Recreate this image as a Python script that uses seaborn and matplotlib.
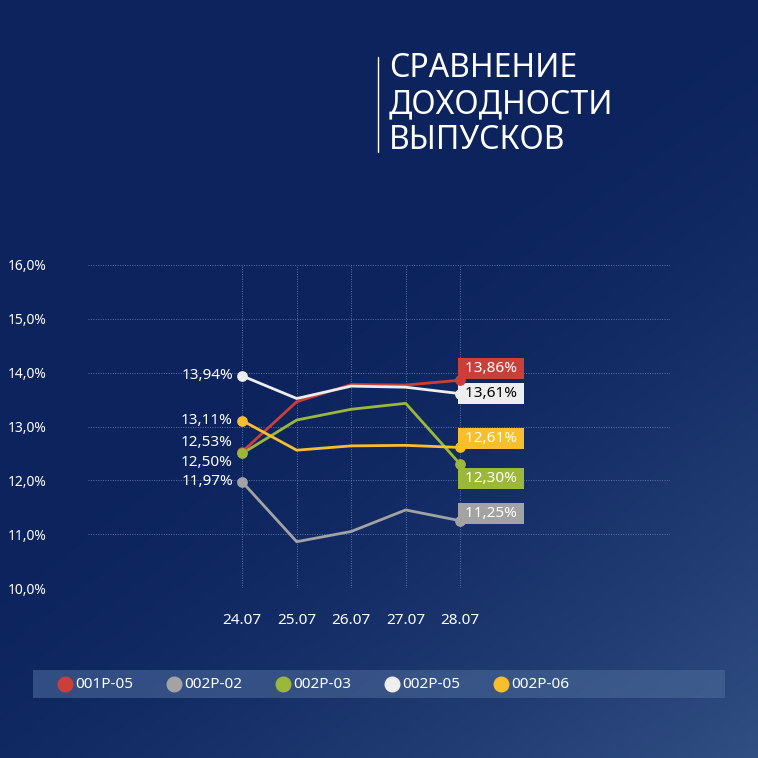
import numpy as np
import pandas as pd
import matplotlib
matplotlib.use("Agg")
import matplotlib.pyplot as plt
import seaborn as sns

dates = ["24.07", "25.07", "26.07", "27.07", "28.07"]
series_names = ["001P-05", "002P-02", "002P-03", "002P-05", "002P-06"]
v_001p05 = [12.53, 13.46, 13.78, 13.77, 13.86]
v_002p02 = [11.97, 10.86, 11.05, 11.45, 11.25]
v_002p03 = [12.50, 13.12, 13.32, 13.43, 12.30]
v_002p05 = [13.94, 13.52, 13.75, 13.73, 13.61]
v_002p06 = [13.11, 12.56, 12.64, 12.65, 12.61]
colors = ["#c9403a", "#a3a3a3", "#9bb83a", "#eeeeee", "#f7be2e"]

rows = []
for name, vals in zip(series_names, [v_001p05, v_002p02, v_002p03, v_002p05, v_002p06]):
    for i, v in enumerate(vals):
        rows.append({"series": name, "x": i, "value": v})
df = pd.DataFrame(rows)

sns.set_theme(style="dark")
plt.rcParams['font.family'] = ['Noto Sans', 'DejaVu Sans']

fig = plt.figure(figsize=(7.58, 7.58), dpi=100)
# gradient background
bg = fig.add_axes([0, 0, 1, 1])
yy, xx = np.mgrid[0:1:200j, 0:1:200j]
t = np.clip((xx * 0.6 + yy * 0.8) - 0.55, 0, 1) ** 1.6
c0 = np.array([0x0c, 0x23, 0x5e]) / 255
c1 = np.array([0x3c, 0x5c, 0x8e]) / 255
img = c0[None, None, :] * (1 - t[..., None]) + c1[None, None, :] * t[..., None]
bg.imshow(img, origin="upper", aspect="auto", extent=[0, 1, 1, 0])
bg.axis("off")

W, H = 758, 758
ax = fig.add_axes([88 / W, 1 - 588 / H, (670 - 88) / W, (588 - 265) / H])
ax.set_facecolor("none")
sns.lineplot(data=df, x="x", y="value", hue="series", palette=colors, ax=ax,
             linewidth=2, legend=False)
for name, col in zip(series_names, colors):
    sub = df[df.series == name]
    ax.scatter([sub.x.iloc[0], sub.x.iloc[-1]], [sub.value.iloc[0], sub.value.iloc[-1]],
               color=col, s=45, zorder=5)

ax.set_xlim(-2.83, 7.85)
ax.set_ylim(10, 16)
ax.set_yticks(np.arange(10, 16.01, 1))
ax.set_yticklabels([f"{v:.1f}%".replace(".", ",") for v in np.arange(10, 16.01, 1)],
                   color="white", fontsize=10)
ax.set_xticks(range(len(dates)))
ax.set_xticklabels(dates, color="white", fontsize=11)
ax.tick_params(axis="y", pad=22, length=0)
ax.tick_params(axis="x", pad=18, length=0)
for lbl in ax.get_yticklabels():
    lbl.set_horizontalalignment("left")
ax.tick_params(axis="y", pad=58)
ax.grid(True, color="#5a73a8", linestyle=(0, (1, 1.5)), linewidth=0.7)
ax.set_xlabel("")
ax.set_ylabel("")
for s in ax.spines.values():
    s.set_visible(False)

# left labels
left_vals = [v_001p05[0], v_002p02[0], v_002p03[0], v_002p05[0], v_002p06[0]]
left_pos = [12.70, 11.97, 12.33, 13.94, 13.11]
for v, p in zip(left_vals, left_pos):
    ax.text(-0.17, p, f"{v:.2f}%".replace(".", ","), color="white", fontsize=11,
            ha="right", va="center")

# right boxed labels
right_vals = [v_001p05[-1], v_002p02[-1], v_002p03[-1], v_002p05[-1], v_002p06[-1]]
right_pos = [14.07, 11.38, 12.03, 13.62, 12.78]
text_cols = ["white", "white", "white", "black", "white"]
for v, p, col, tc in zip(right_vals, right_pos, colors, text_cols):
    ax.text(4.02, p, f" {v:.2f}% ".replace(".", ","), color=tc, fontsize=11,
            ha="left", va="center",
            bbox=dict(boxstyle="square,pad=0.2", facecolor=col, edgecolor="none"))

# title
fig.add_artist(plt.Line2D([378 / W, 378 / W], [1 - 57 / H, 1 - 152 / H], color="white", lw=1))
fig.text(389 / W, 1 - 52 / H, "СРАВНЕНИЕ\nДОХОДНОСТИ\nВЫПУСКОВ", color="white",
         fontsize=23, va="top", ha="left", linespacing=1.12)

# legend bar
lg = fig.add_axes([33 / W, 1 - 698 / H, (725 - 33) / W, 28 / H])
lg.set_xlim(0, 692)
lg.set_ylim(0, 1)
lg.axis("off")
lg.add_patch(plt.Rectangle((0, 0), 692, 1, color="#4f6d9c", alpha=0.55, lw=0))
lx = [32, 141, 250, 359, 468]
for x, name, col in zip(lx, series_names, colors):
    lg.scatter([x], [0.5], s=110, color=col)
    lg.text(x + 10, 0.5, name, color="white", fontsize=11, va="center")

fig.savefig("out.png", dpi=100)
